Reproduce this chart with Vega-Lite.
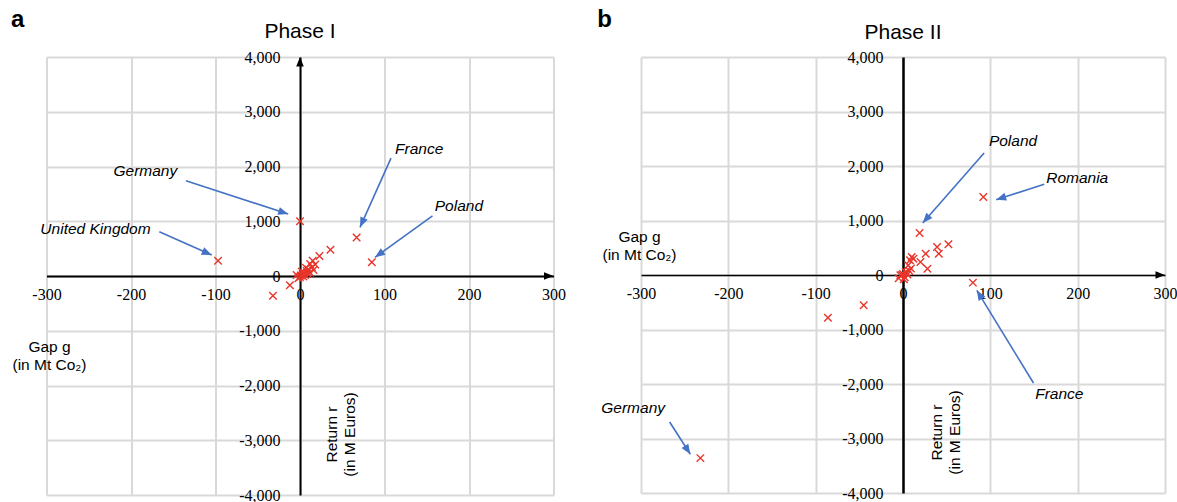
{
  "$schema": "https://vega.github.io/schema/vega-lite/v6.json",
  "background": "white",
  "padding": {"left": 10.5, "top": 8, "right": 5, "bottom": 5},
  "bounds": "flush",
  "spacing": 87.5,
  "config": {"view": {"stroke": null}},
  "datasets": {
    "p1": [
      {"r": 0, "g": 1000}, {"r": 67, "g": 705}, {"r": 85, "g": 250}, {"r": -97, "g": 280},
      {"r": 36, "g": 480}, {"r": 23, "g": 365}, {"r": 15, "g": 280}, {"r": 14, "g": 160},
      {"r": 12, "g": 220}, {"r": -12, "g": -170}, {"r": -32, "g": -360}, {"r": 18, "g": 210},
      {"r": 10, "g": 120}, {"r": 8, "g": 90}, {"r": 5, "g": 60}, {"r": 3, "g": 30},
      {"r": 1, "g": 10}, {"r": 0, "g": -20}, {"r": -2, "g": -40}, {"r": 2, "g": 80},
      {"r": 6, "g": 20}, {"r": 4, "g": -10}, {"r": 9, "g": 40}, {"r": 12, "g": 60},
      {"r": 16, "g": 110}, {"r": 7, "g": 150}, {"r": -4, "g": 20}
    ],
    "p2": [
      {"r": 92, "g": 1430}, {"r": 19, "g": 770}, {"r": 52, "g": 563}, {"r": 39, "g": 514},
      {"r": 41, "g": 391}, {"r": 26, "g": 391}, {"r": 28, "g": 116}, {"r": 20, "g": 240},
      {"r": 12, "g": 300}, {"r": 8, "g": 270}, {"r": 6, "g": 180}, {"r": 80, "g": -140},
      {"r": -45, "g": -556}, {"r": -86, "g": -785}, {"r": -232, "g": -3360}, {"r": 3, "g": 55},
      {"r": -3, "g": -5}, {"r": 0, "g": 20}, {"r": 5, "g": 10}, {"r": -5, "g": -60},
      {"r": 2, "g": -40}, {"r": 7, "g": 80}, {"r": 1, "g": -80}, {"r": 4, "g": 40},
      {"r": -1, "g": 0}, {"r": 9, "g": 120}, {"r": 10, "g": 330}
    ],
    "t1": [
      {"label": "Germany", "r": -183, "g": 1911},
      {"label": "United Kingdom", "r": -242, "g": 858},
      {"label": "France", "r": 141, "g": 2318},
      {"label": "Poland", "r": 188, "g": 1272}
    ],
    "t2": [
      {"label": "Poland", "r": 126, "g": 2459},
      {"label": "Romania", "r": 199.5, "g": 1780},
      {"label": "France", "r": 179, "g": -2178},
      {"label": "Germany", "r": -309, "g": -2440}
    ],
    "a1": [
      {"r": -135, "g": 1739, "r2": -14, "g2": 1131},
      {"r": -166.5, "g": 808, "r2": -104.5, "g2": 383},
      {"r": 107.7, "g": 2153, "r2": 71, "g2": 889},
      {"r": 156.8, "g": 1100, "r2": 88.8, "g2": 341}
    ],
    "a2": [
      {"r": 92.9, "g": 2239, "r2": 22.6, "g2": 954},
      {"r": 161.7, "g": 1664, "r2": 106.7, "g2": 1382},
      {"r": 149.4, "g": -1982, "r2": 84.5, "g2": -281},
      {"r": -267.2, "g": -2697, "r2": -243.5, "g2": -3290}
    ]
  },
  "hconcat": [
    {
      "width": 507,
      "height": 438,
      "layer": [
        {
          "data": {"name": "p1"},
          "mark": {"type": "point", "shape": "M-1,-1L1,1M-1,1L1,-1", "filled": false, "stroke": "#e8352b", "strokeWidth": 1.4, "size": 56, "opacity": 1},
          "encoding": {
            "x": {"field": "r", "type": "quantitative", "scale": {"domain": [-300, 300], "nice": false, "zero": false},
              "axis": {"values": [-300, -200, -100, 0, 100, 200, 300], "offset": -219, "ticks": false,
                "domainColor": "#000000", "domainWidth": 2, "grid": true, "gridColor": "#d9d9d9", "gridWidth": 2,
                "labelFont": "Liberation Serif", "labelFontSize": 16, "labelColor": "#000000", "labelPadding": 10, "labelFlush": false, "labelOverlap": false,
                "labelExpr": "replace(format(datum.value, ','), '\u2212', '-')",
                "title": ["Return r", "(in M Euros)"], "titleFont": "Liberation Sans", "titleFontSize": 15.5, "titleFontWeight": "normal", "titleColor": "#000000",
                "titleAngle": 270, "titleX": 284.5, "titleY": 158, "titleAlign": "center", "titleBaseline": "middle", "titleLineHeight": 18.5}},
            "y": {"field": "g", "type": "quantitative", "scale": {"domain": [-4000, 4000], "nice": false, "zero": false},
              "axis": {"values": [-4000, -3000, -2000, -1000, 0, 1000, 2000, 3000, 4000], "offset": -253.5, "ticks": false,
                "domainColor": "#000000", "domainWidth": 2, "grid": true, "gridColor": "#d9d9d9", "gridWidth": 2,
                "labelFont": "Liberation Serif", "labelFontSize": 16, "labelColor": "#000000", "labelPadding": 20, "labelOverlap": false, "labelFlush": false,
                "labelExpr": "replace(format(datum.value, ','), '\u2212', '-')",
                "title": ["Gap g", "(in Mt Co\u2082)"], "titleFont": "Liberation Sans", "titleFontSize": 15.5, "titleFontWeight": "normal", "titleColor": "#000000",
                "titleAngle": 0, "titleX": -251, "titleY": 289, "titleAlign": "center", "titleBaseline": "middle", "titleLineHeight": 18.5}}
          }
        },
        {
          "data": {"values": [{"r": 300, "g": 0}]},
          "mark": {"type": "point", "shape": "M0,0L-2,-0.8L-2,0.8Z", "filled": true, "color": "#000000", "size": 90, "opacity": 1, "angle": 0},
          "encoding": {"x": {"field": "r", "type": "quantitative"}, "y": {"field": "g", "type": "quantitative"}}
        },
        {
          "data": {"values": [{"r": 0, "g": 4000}]},
          "mark": {"type": "point", "shape": "M0,0L-2,-0.8L-2,0.8Z", "filled": true, "color": "#000000", "size": 90, "opacity": 1, "angle": 270},
          "encoding": {"x": {"field": "r", "type": "quantitative"}, "y": {"field": "g", "type": "quantitative"}}
        },
        {
          "data": {"name": "a1"},
          "mark": {"type": "rule", "color": "#4472c4", "strokeWidth": 1.6},
          "encoding": {"x": {"field": "r", "type": "quantitative"}, "y": {"field": "g", "type": "quantitative"}, "x2": {"field": "r2"}, "y2": {"field": "g2"}}
        },
        {
          "data": {"name": "a1"},
          "transform": [{"calculate": "atan2(-(datum.g2 - datum.g) * 438 / 8000, (datum.r2 - datum.r) * 507 / 600) * 180 / PI", "as": "ang"}],
          "mark": {"type": "point", "shape": "M0,0L-2,-0.8L-2,0.8Z", "filled": true, "color": "#4472c4", "size": 100, "opacity": 1},
          "encoding": {"x": {"field": "r2", "type": "quantitative"}, "y": {"field": "g2", "type": "quantitative"}, "angle": {"field": "ang", "type": "quantitative", "scale": null}}
        },
        {
          "data": {"name": "t1"},
          "mark": {"type": "text", "font": "Liberation Sans", "fontStyle": "italic", "fontSize": 15.5, "color": "#000000", "align": "center", "baseline": "middle"},
          "encoding": {"x": {"field": "r", "type": "quantitative"}, "y": {"field": "g", "type": "quantitative"}, "text": {"field": "label"}}
        },
        {
          "data": {"values": [{"tag": "Phase I", "r": 0, "g": 4338}]},
          "mark": {"type": "text", "font": "Liberation Sans", "fontSize": 21, "color": "#000000", "align": "center", "baseline": "alphabetic"},
          "encoding": {"x": {"field": "r", "type": "quantitative"}, "y": {"field": "g", "type": "quantitative"}, "text": {"field": "tag"}}
        },
        {
          "data": {"values": [{"tag": "a", "r": -334, "g": 4545}]},
          "mark": {"type": "text", "font": "Liberation Sans", "fontWeight": "bold", "fontSize": 24, "color": "#000000", "align": "center", "baseline": "alphabetic"},
          "encoding": {"x": {"field": "r", "type": "quantitative"}, "y": {"field": "g", "type": "quantitative"}, "text": {"field": "tag"}}
        }
      ]
    },
    {
      "width": 524,
      "height": 436,
      "layer": [
        {
          "data": {"name": "p2"},
          "mark": {"type": "point", "shape": "M-1,-1L1,1M-1,1L1,-1", "filled": false, "stroke": "#e8352b", "strokeWidth": 1.4, "size": 56, "opacity": 1},
          "encoding": {
            "x": {"field": "r", "type": "quantitative", "scale": {"domain": [-300, 300], "nice": false, "zero": false},
              "axis": {"values": [-300, -200, -100, 0, 100, 200, 300], "offset": -218, "ticks": false,
                "domainColor": "#000000", "domainWidth": 1.5, "grid": true, "gridColor": "#d9d9d9", "gridWidth": 2,
                "labelFont": "Liberation Serif", "labelFontSize": 16, "labelColor": "#000000", "labelPadding": 10, "labelFlush": false, "labelOverlap": false,
                "labelExpr": "replace(format(datum.value, ','), '\u2212', '-')",
                "title": ["Return r", "(in M Euros)"], "titleFont": "Liberation Sans", "titleFontSize": 15.5, "titleFontWeight": "normal", "titleColor": "#000000",
                "titleAngle": 270, "titleX": 295, "titleY": 157, "titleAlign": "center", "titleBaseline": "middle", "titleLineHeight": 18.5}},
            "y": {"field": "g", "type": "quantitative", "scale": {"domain": [-4000, 4000], "nice": false, "zero": false},
              "axis": {"values": [-4000, -3000, -2000, -1000, 0, 1000, 2000, 3000, 4000], "offset": -262, "ticks": false,
                "domainColor": "#000000", "domainWidth": 2.5, "grid": true, "gridColor": "#d9d9d9", "gridWidth": 2,
                "labelFont": "Liberation Serif", "labelFontSize": 16, "labelColor": "#000000", "labelPadding": 20, "labelOverlap": false, "labelFlush": false,
                "labelExpr": "replace(format(datum.value, ','), '\u2212', '-')",
                "title": ["Gap g", "(in Mt Co\u2082)"], "titleFont": "Liberation Sans", "titleFontSize": 15.5, "titleFontWeight": "normal", "titleColor": "#000000",
                "titleAngle": 0, "titleX": -264, "titleY": 179, "titleAlign": "center", "titleBaseline": "middle", "titleLineHeight": 18.5}}
          }
        },
        {
          "data": {"values": [{"r": 300, "g": 0}]},
          "mark": {"type": "point", "shape": "M0,0L-2,-0.8L-2,0.8Z", "filled": true, "color": "#000000", "size": 90, "opacity": 1, "angle": 0},
          "encoding": {"x": {"field": "r", "type": "quantitative"}, "y": {"field": "g", "type": "quantitative"}}
        },
        {
          "data": {"name": "a2"},
          "mark": {"type": "rule", "color": "#4472c4", "strokeWidth": 1.6},
          "encoding": {"x": {"field": "r", "type": "quantitative"}, "y": {"field": "g", "type": "quantitative"}, "x2": {"field": "r2"}, "y2": {"field": "g2"}}
        },
        {
          "data": {"name": "a2"},
          "transform": [{"calculate": "atan2(-(datum.g2 - datum.g) * 436 / 8000, (datum.r2 - datum.r) * 524 / 600) * 180 / PI", "as": "ang"}],
          "mark": {"type": "point", "shape": "M0,0L-2,-0.8L-2,0.8Z", "filled": true, "color": "#4472c4", "size": 100, "opacity": 1},
          "encoding": {"x": {"field": "r2", "type": "quantitative"}, "y": {"field": "g2", "type": "quantitative"}, "angle": {"field": "ang", "type": "quantitative", "scale": null}}
        },
        {
          "data": {"name": "t2"},
          "mark": {"type": "text", "font": "Liberation Sans", "fontStyle": "italic", "fontSize": 15.5, "color": "#000000", "align": "center", "baseline": "middle"},
          "encoding": {"x": {"field": "r", "type": "quantitative"}, "y": {"field": "g", "type": "quantitative"}, "text": {"field": "label"}}
        },
        {
          "data": {"values": [{"tag": "Phase II", "r": 0, "g": 4338}]},
          "mark": {"type": "text", "font": "Liberation Sans", "fontSize": 21, "color": "#000000", "align": "center", "baseline": "alphabetic"},
          "encoding": {"x": {"field": "r", "type": "quantitative"}, "y": {"field": "g", "type": "quantitative"}, "text": {"field": "tag"}}
        },
        {
          "data": {"values": [{"tag": "b", "r": -341.7, "g": 4545}]},
          "mark": {"type": "text", "font": "Liberation Sans", "fontWeight": "bold", "fontSize": 24, "color": "#000000", "align": "center", "baseline": "alphabetic"},
          "encoding": {"x": {"field": "r", "type": "quantitative"}, "y": {"field": "g", "type": "quantitative"}, "text": {"field": "tag"}}
        }
      ]
    }
  ]
}
